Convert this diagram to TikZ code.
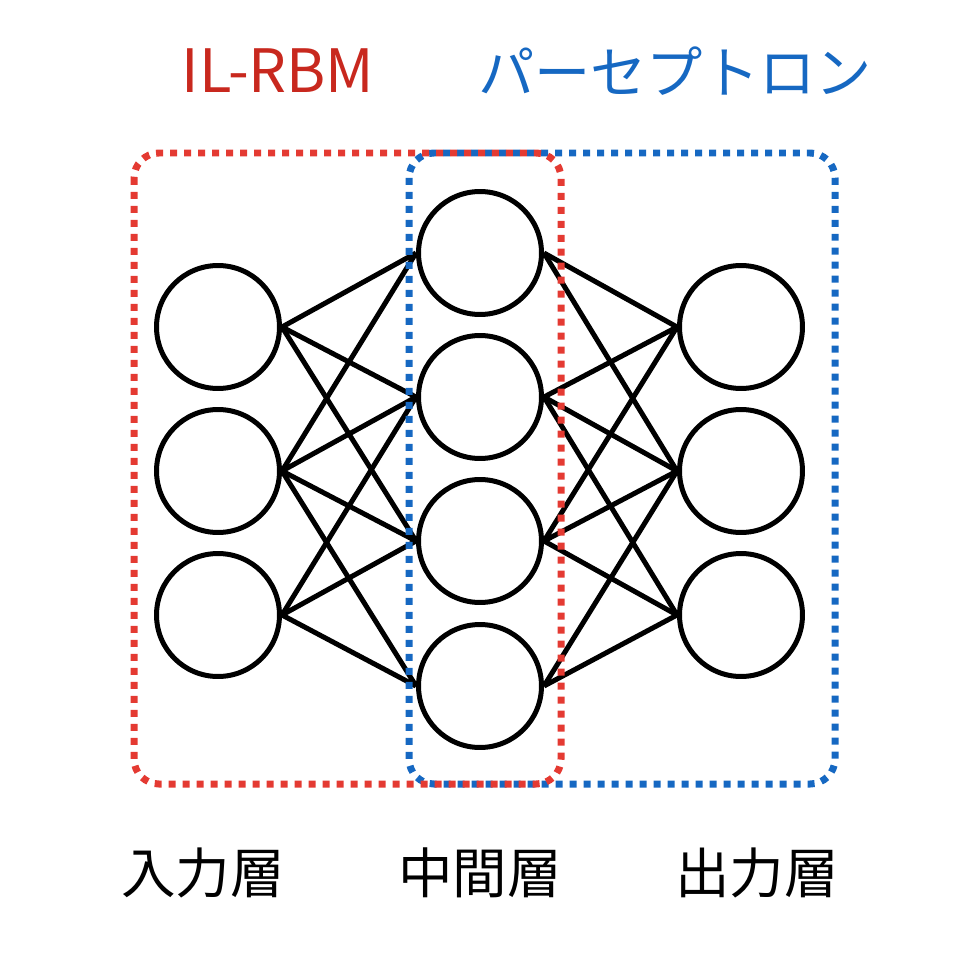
\documentclass[tikz,border=0pt]{standalone}
\usepackage{fontspec}
\setmainfont{Noto Sans CJK JP}
\usepackage{xcolor}
\usepackage{tikz}
\usetikzlibrary{positioning}

\definecolor{rbmred}{RGB}{228,58,50}
\definecolor{rbmtext}{RGB}{200,40,30}
\definecolor{perblue}{RGB}{22,104,194}

\begin{document}
\begin{tikzpicture}[
    x=0.02cm, y=-0.02cm,
    neuron/.style={circle, draw, line width=0.1cm, fill=white, minimum size=2.46cm, inner sep=0pt},
    link/.style={line width=0.1cm},
    groupbox/.style={line width=0.14cm, dash pattern=on 0.14cm off 0.14cm, rounded corners=0.5cm},
    layerlabel/.style={font=\fontsize{31}{36}\selectfont},
    grouplabel/.style={font=\fontsize{34}{40}\selectfont}
]
\useasboundingbox (0,0) rectangle (974,980);

% Input layer
\node[neuron] (i1) at (218,327) {};
\node[neuron] (i2) at (218,471) {};
\node[neuron] (i3) at (218,615) {};

% Hidden layer
\node[neuron] (h1) at (480,253) {};
\node[neuron] (h2) at (480,397) {};
\node[neuron] (h3) at (480,541) {};
\node[neuron] (h4) at (480,686) {};

% Output layer
\node[neuron] (o1) at (741,327) {};
\node[neuron] (o2) at (741,471) {};
\node[neuron] (o3) at (741,615) {};

% Edges input -> hidden
\draw[link] (i1.east) -- (h1.west);
\draw[link] (i1.east) -- (h2.west);
\draw[link] (i1.east) -- (h3.west);
\draw[link] (i2.east) -- (h1.west);
\draw[link] (i2.east) -- (h2.west);
\draw[link] (i2.east) -- (h3.west);
\draw[link] (i2.east) -- (h4.west);
\draw[link] (i3.east) -- (h2.west);
\draw[link] (i3.east) -- (h3.west);
\draw[link] (i3.east) -- (h4.west);

% Edges hidden -> output
\draw[link] (h1.east) -- (o1.west);
\draw[link] (h1.east) -- (o2.west);
\draw[link] (h2.east) -- (o1.west);
\draw[link] (h2.east) -- (o2.west);
\draw[link] (h2.east) -- (o3.west);
\draw[link] (h3.east) -- (o1.west);
\draw[link] (h3.east) -- (o2.west);
\draw[link] (h3.east) -- (o3.west);
\draw[link] (h4.east) -- (o2.west);
\draw[link] (h4.east) -- (o3.west);

% Group boxes
\draw[groupbox, perblue] (409,153) rectangle (835,784);
\draw[groupbox, rbmred] (134,153) rectangle (561,784);

% Group labels
\node[grouplabel, text=rbmtext] (rbm) at (278,71) {IL-RBM};
\node[grouplabel, text=perblue, font=\fontsize{32}{38}\selectfont] (per) at (675,71) {パーセプトロン};

% Layer labels
\node[layerlabel] (lin) at (203,873) {入力層};
\node[layerlabel] (lhid) at (480,873) {中間層};
\node[layerlabel] (lout) at (757,873) {出力層};

\end{tikzpicture}
\end{document}
